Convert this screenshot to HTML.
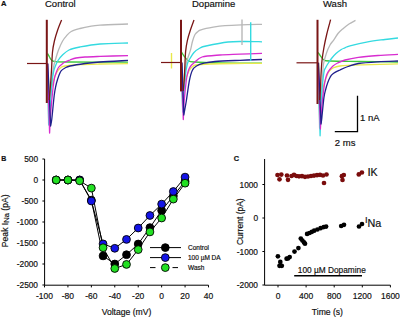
<!DOCTYPE html>
<html><head><meta charset="utf-8"><style>
html,body{margin:0;padding:0;background:#fff;width:400px;height:317px;overflow:hidden}
svg{display:block}
text{font-family:"Liberation Sans", sans-serif;fill:#111;stroke:#111;stroke-width:0.18px}
</style></head><body>
<svg width="400" height="317" viewBox="0 0 400 317">
<path d="M47.60,53.50 C47.92,54.08 48.85,55.92 49.50,57.00 C50.15,58.08 50.58,59.25 51.50,60.00 C52.42,60.75 51.92,61.17 55.00,61.50 C58.08,61.83 57.83,61.88 70.00,62.00 C82.17,62.12 118.33,62.17 128.00,62.20" fill="none" stroke="#3cc83c" stroke-width="1.3" stroke-linejoin="round"/>
<path d="M47.5,63.5 L49.5,95 L49.50,95.00 C49.92,93.50 51.08,89.17 52.00,86.00 C52.92,82.83 54.00,78.58 55.00,76.00 C56.00,73.42 57.00,71.92 58.00,70.50 C59.00,69.08 59.83,68.25 61.00,67.50 C62.17,66.75 61.83,66.48 65.00,66.00 C68.17,65.52 74.17,64.93 80.00,64.60 C85.83,64.27 92.00,64.17 100.00,64.00 C108.00,63.83 123.33,63.67 128.00,63.60" fill="none" stroke="#e8e84a" stroke-width="1.3" stroke-linejoin="round"/>
<path d="M47.3,63.5 L48.6,124 L48.60,124.00 C48.77,121.67 49.17,115.67 49.60,110.00 C50.03,104.33 50.72,95.83 51.20,90.00 C51.68,84.17 52.03,79.17 52.50,75.00 C52.97,70.83 53.45,67.75 54.00,65.00 C54.55,62.25 55.05,61.00 55.80,58.50 C56.55,56.00 57.37,52.92 58.50,50.00 C59.63,47.08 61.27,43.37 62.60,41.00 C63.93,38.63 65.07,37.38 66.50,35.80 C67.93,34.22 68.95,32.72 71.20,31.50 C73.45,30.28 76.87,29.37 80.00,28.50 C83.13,27.63 86.67,26.85 90.00,26.30 C93.33,25.75 93.67,25.58 100.00,25.20 C106.33,24.82 123.33,24.20 128.00,24.00" fill="none" stroke="#b8b8b8" stroke-width="1.3" stroke-linejoin="round"/>
<path d="M47.3,63.5 L48.8,125 L48.80,125.00 C48.93,123.50 49.23,121.00 49.60,116.00 C49.97,111.00 50.63,100.40 51.00,95.00 C51.37,89.60 51.38,87.43 51.80,83.60 C52.22,79.77 52.90,74.93 53.50,72.00 C54.10,69.07 54.65,67.92 55.40,66.00 C56.15,64.08 56.90,62.25 58.00,60.50 C59.10,58.75 60.17,57.25 62.00,55.50 C63.83,53.75 66.00,51.42 69.00,50.00 C72.00,48.58 74.83,48.00 80.00,47.00 C85.17,46.00 92.00,44.67 100.00,44.00 C108.00,43.33 123.33,43.17 128.00,43.00" fill="none" stroke="#34dae0" stroke-width="1.3" stroke-linejoin="round"/>
<path d="M47.5,63.5 L49.6,133 L49.60,133.00 C49.77,129.83 50.03,121.50 50.60,114.00 C51.17,106.50 52.35,94.00 53.00,88.00 C53.65,82.00 53.92,80.70 54.50,78.00 C55.08,75.30 55.83,73.55 56.50,71.80 C57.17,70.05 57.70,68.68 58.50,67.50 C59.30,66.32 60.22,65.62 61.30,64.70 C62.38,63.78 63.55,62.78 65.00,62.00 C66.45,61.22 68.17,60.67 70.00,60.00 C71.83,59.33 73.50,58.50 76.00,58.00 C78.50,57.50 81.00,57.27 85.00,57.00 C89.00,56.73 92.83,56.63 100.00,56.40 C107.17,56.17 123.33,55.73 128.00,55.60" fill="none" stroke="#d82cd0" stroke-width="1.3" stroke-linejoin="round"/>
<path d="M47.8,63.5 L50.6,126 L50.60,126.00 C50.80,124.83 51.20,124.08 51.80,119.00 C52.40,113.92 53.53,101.00 54.20,95.50 C54.87,90.00 55.22,88.75 55.80,86.00 C56.38,83.25 57.08,81.00 57.70,79.00 C58.32,77.00 58.90,75.40 59.50,74.00 C60.10,72.60 60.38,71.60 61.30,70.60 C62.22,69.60 63.55,68.77 65.00,68.00 C66.45,67.23 66.67,66.75 70.00,66.00 C73.33,65.25 80.00,64.17 85.00,63.50 C90.00,62.83 92.83,62.52 100.00,62.00 C107.17,61.48 123.33,60.67 128.00,60.40" fill="none" stroke="#20208c" stroke-width="1.3" stroke-linejoin="round"/>
<path d="M49.30,100.00 C49.50,97.50 50.13,90.00 50.50,85.00 C50.87,80.00 51.17,75.50 51.50,70.00 C51.83,64.50 52.02,56.83 52.50,52.00 C52.98,47.17 53.57,44.58 54.40,41.00 C55.23,37.42 56.30,34.00 57.50,30.50 C58.70,27.00 60.92,21.75 61.60,20.00" fill="none" stroke="#7a1616" stroke-width="1.3" stroke-linejoin="round"/>
<path d="M27,63.5 L46.8,63.5" stroke="#7a1616" stroke-width="1.2" fill="none"/>
<rect x="45.8" y="19.8" width="2.0" height="83.2" fill="#7a1616"/>
<path d="M181.50,52.00 C181.92,52.67 182.92,54.58 184.00,56.00 C185.08,57.42 186.33,59.50 188.00,60.50 C189.67,61.50 188.67,61.58 194.00,62.00 C199.33,62.42 208.67,62.80 220.00,63.00 C231.33,63.20 255.00,63.17 262.00,63.20" fill="none" stroke="#3cc83c" stroke-width="1.3" stroke-linejoin="round"/>
<path d="M181.5,62.5 L183.5,85 L183.50,85.00 C183.92,83.83 185.08,80.33 186.00,78.00 C186.92,75.67 188.00,72.83 189.00,71.00 C190.00,69.17 190.83,68.00 192.00,67.00 C193.17,66.00 193.00,65.50 196.00,65.00 C199.00,64.50 203.50,64.25 210.00,64.00 C216.50,63.75 226.33,63.62 235.00,63.50 C243.67,63.38 257.50,63.33 262.00,63.30" fill="none" stroke="#e8e84a" stroke-width="1.3" stroke-linejoin="round"/>
<path d="M181.2,62.5 L182.6,110 L182.60,110.00 C182.73,107.50 183.03,100.83 183.40,95.00 C183.77,89.17 184.32,80.33 184.80,75.00 C185.28,69.67 185.68,66.17 186.30,63.00 C186.92,59.83 187.78,58.22 188.50,56.00 C189.22,53.78 189.92,52.20 190.60,49.70 C191.28,47.20 191.87,43.53 192.60,41.00 C193.33,38.47 194.10,36.08 195.00,34.50 C195.90,32.92 197.00,32.28 198.00,31.50 C199.00,30.72 198.47,30.52 201.00,29.80 C203.53,29.08 209.20,27.90 213.20,27.20 C217.20,26.50 220.27,26.00 225.00,25.60 C229.73,25.20 235.43,25.00 241.60,24.80 C247.77,24.60 258.60,24.47 262.00,24.40" fill="none" stroke="#b8b8b8" stroke-width="1.3" stroke-linejoin="round"/>
<path d="M181.2,62.5 L182.8,112 L182.80,112.00 C182.90,110.17 182.98,106.93 183.40,101.00 C183.82,95.07 184.65,82.57 185.30,76.40 C185.95,70.23 186.52,66.98 187.30,64.00 C188.08,61.02 188.88,60.42 190.00,58.50 C191.12,56.58 192.33,54.25 194.00,52.50 C195.67,50.75 198.00,49.08 200.00,48.00 C202.00,46.92 201.33,47.00 206.00,46.00 C210.67,45.00 221.50,42.75 228.00,42.00 C234.50,41.25 239.33,41.53 245.00,41.50 C250.67,41.47 259.17,41.75 262.00,41.80" fill="none" stroke="#34dae0" stroke-width="1.3" stroke-linejoin="round"/>
<path d="M181.5,62.5 L183.3,119.5 L183.30,119.50 C183.45,116.42 183.70,107.50 184.20,101.00 C184.70,94.50 185.67,85.33 186.30,80.50 C186.93,75.67 187.48,74.05 188.00,72.00 C188.52,69.95 188.82,69.37 189.40,68.20 C189.98,67.03 190.65,65.95 191.50,65.00 C192.35,64.05 192.75,63.83 194.50,62.50 C196.25,61.17 197.75,58.25 202.00,57.00 C206.25,55.75 213.67,55.47 220.00,55.00 C226.33,54.53 233.00,54.48 240.00,54.20 C247.00,53.92 258.33,53.45 262.00,53.30" fill="none" stroke="#d82cd0" stroke-width="1.3" stroke-linejoin="round"/>
<path d="M182,62.5 L183.8,115 L183.80,115.00 C184.22,112.67 185.37,106.75 186.30,101.00 C187.23,95.25 188.38,85.63 189.40,80.50 C190.42,75.37 191.22,72.62 192.40,70.20 C193.58,67.78 194.57,67.17 196.50,66.00 C198.43,64.83 200.92,63.95 204.00,63.20 C207.08,62.45 209.00,61.98 215.00,61.50 C221.00,61.02 232.17,60.63 240.00,60.30 C247.83,59.97 258.33,59.63 262.00,59.50" fill="none" stroke="#20208c" stroke-width="1.3" stroke-linejoin="round"/>
<path d="M183.20,91.00 C183.37,89.17 183.93,83.83 184.20,80.00 C184.47,76.17 184.57,72.73 184.80,68.00 C185.03,63.27 185.17,56.22 185.60,51.60 C186.03,46.98 186.60,43.90 187.40,40.30 C188.20,36.70 189.30,33.38 190.40,30.00 C191.50,26.62 193.40,21.67 194.00,20.00" fill="none" stroke="#7a1616" stroke-width="1.3" stroke-linejoin="round"/>
<path d="M242,19.5 L242,45" fill="none" stroke="#b8b8b8" stroke-width="1.4"/>
<path d="M250.7,22.3 L250.7,61" fill="none" stroke="#34dae0" stroke-width="1.4"/>
<path d="M171.5,53 L171.5,68.5" fill="none" stroke="#e8e84a" stroke-width="1.4"/>
<path d="M161,62.5 L181.0,62.5" stroke="#7a1616" stroke-width="1.2" fill="none"/>
<rect x="180.0" y="19.8" width="2.0" height="71.60000000000001" fill="#7a1616"/>
<path d="M318.00,52.50 C318.42,53.08 319.50,54.75 320.50,56.00 C321.50,57.25 322.42,59.17 324.00,60.00 C325.58,60.83 324.00,60.75 330.00,61.00 C336.00,61.25 348.67,61.33 360.00,61.50 C371.33,61.67 391.67,61.92 398.00,62.00" fill="none" stroke="#3cc83c" stroke-width="1.3" stroke-linejoin="round"/>
<path d="M318.5,62.8 L320.5,98 L320.50,98.00 C320.92,96.33 322.08,91.33 323.00,88.00 C323.92,84.67 325.00,80.75 326.00,78.00 C327.00,75.25 327.83,73.17 329.00,71.50 C330.17,69.83 331.17,68.92 333.00,68.00 C334.83,67.08 335.50,66.53 340.00,66.00 C344.50,65.47 350.33,65.15 360.00,64.80 C369.67,64.45 391.67,64.05 398.00,63.90" fill="none" stroke="#e8e84a" stroke-width="1.3" stroke-linejoin="round"/>
<path d="M318,62.8 L319.6,128 L319.60,128.00 C319.80,125.00 320.40,116.33 320.80,110.00 C321.20,103.67 321.68,95.83 322.00,90.00 C322.32,84.17 322.45,79.33 322.70,75.00 C322.95,70.67 322.87,67.67 323.50,64.00 C324.13,60.33 325.42,56.17 326.50,53.00 C327.58,49.83 328.75,47.22 330.00,45.00 C331.25,42.78 332.67,41.62 334.00,39.70 C335.33,37.78 336.50,35.33 338.00,33.50 C339.50,31.67 341.17,30.28 343.00,28.70 C344.83,27.12 346.92,25.38 349.00,24.00 C351.08,22.62 354.42,21.00 355.50,20.40" fill="none" stroke="#b8b8b8" stroke-width="1.3" stroke-linejoin="round"/>
<path d="M318,62.8 L320.1,135.8 L320.10,135.80 C320.22,132.33 320.55,121.80 320.80,115.00 C321.05,108.20 321.08,102.07 321.60,95.00 C322.12,87.93 323.25,77.10 323.90,72.60 C324.55,68.10 324.87,69.43 325.50,68.00 C326.13,66.57 326.70,65.58 327.70,64.00 C328.70,62.42 330.12,60.25 331.50,58.50 C332.88,56.75 334.37,55.00 336.00,53.50 C337.63,52.00 339.80,50.45 341.30,49.50 C342.80,48.55 343.55,48.42 345.00,47.80 C346.45,47.18 346.20,46.80 350.00,45.80 C353.80,44.80 361.97,42.85 367.80,41.80 C373.63,40.75 379.97,40.13 385.00,39.50 C390.03,38.87 395.83,38.25 398.00,38.00" fill="none" stroke="#34dae0" stroke-width="1.3" stroke-linejoin="round"/>
<path d="M318.2,62.8 L320.4,129 L320.40,129.00 C320.57,125.92 320.82,117.37 321.40,110.50 C321.98,103.63 323.22,93.05 323.90,87.80 C324.58,82.55 324.87,81.53 325.50,79.00 C326.13,76.47 326.50,74.72 327.70,72.60 C328.90,70.48 331.05,67.90 332.70,66.30 C334.35,64.70 335.55,64.05 337.60,63.00 C339.65,61.95 341.53,60.95 345.00,60.00 C348.47,59.05 352.90,58.05 358.40,57.30 C363.90,56.55 371.40,55.98 378.00,55.50 C384.60,55.02 394.67,54.58 398.00,54.40" fill="none" stroke="#d82cd0" stroke-width="1.3" stroke-linejoin="round"/>
<path d="M318.5,62.8 L321,124 L321.00,124.00 C321.10,123.33 321.12,124.35 321.60,120.00 C322.08,115.65 323.20,103.07 323.90,97.90 C324.60,92.73 325.17,91.53 325.80,89.00 C326.43,86.47 327.00,84.62 327.70,82.70 C328.40,80.78 329.17,78.97 330.00,77.50 C330.83,76.03 331.03,75.15 332.70,73.90 C334.37,72.65 337.45,71.23 340.00,70.00 C342.55,68.77 344.93,67.58 348.00,66.50 C351.07,65.42 353.40,64.28 358.40,63.50 C363.40,62.72 371.40,62.22 378.00,61.80 C384.60,61.38 394.67,61.13 398.00,61.00" fill="none" stroke="#20208c" stroke-width="1.3" stroke-linejoin="round"/>
<path d="M319.60,100.00 C319.75,98.00 320.27,92.17 320.50,88.00 C320.73,83.83 320.75,79.58 321.00,75.00 C321.25,70.42 321.50,65.13 322.00,60.50 C322.50,55.87 323.20,51.62 324.00,47.20 C324.80,42.78 325.70,38.58 326.80,34.00 C327.90,29.42 329.97,22.08 330.60,19.70" fill="none" stroke="#7a1616" stroke-width="1.3" stroke-linejoin="round"/>
<path d="M296.5,62.8 L317.5,62.8" stroke="#7a1616" stroke-width="1.2" fill="none"/>
<rect x="316.5" y="19.8" width="2.0" height="84.2" fill="#7a1616"/>
<text x="1.0" y="5.5" font-size="7.6" text-anchor="start" font-weight="bold" >A</text>
<text x="45" y="7.1" font-size="9.5" text-anchor="start" font-weight="normal" >Control</text>
<text x="192" y="7.1" font-size="9.5" text-anchor="start" font-weight="normal" >Dopamine</text>
<text x="323" y="7.1" font-size="9.5" text-anchor="start" font-weight="normal" >Wash</text>
<path d="M334.8,131.6 H357.5 V95.7" fill="none" stroke="#000" stroke-width="1.3"/>
<text x="360" y="121.3" font-size="9.5" text-anchor="start" font-weight="normal" >1 nA</text>
<text x="334.8" y="146.0" font-size="9.5" text-anchor="start" font-weight="normal" >2 ms</text>
<text x="1.2" y="161.4" font-size="7.0" text-anchor="start" font-weight="bold" >B</text>
<path d="M44.6,159 V285.2 H208.496" fill="none" stroke="#000" stroke-width="1"/>
<path d="M42.4,159.00 H44.6" stroke="#000" stroke-width="1"/>
<text x="38" y="162.0" font-size="8.3" text-anchor="end" font-weight="normal" >500</text>
<path d="M42.4,180.00 H44.6" stroke="#000" stroke-width="1"/>
<text x="38" y="183.0" font-size="8.3" text-anchor="end" font-weight="normal" >0</text>
<path d="M42.4,201.00 H44.6" stroke="#000" stroke-width="1"/>
<text x="38" y="204.0" font-size="8.3" text-anchor="end" font-weight="normal" >-500</text>
<path d="M42.4,222.00 H44.6" stroke="#000" stroke-width="1"/>
<text x="38" y="225.0" font-size="8.3" text-anchor="end" font-weight="normal" >-1000</text>
<path d="M42.4,243.00 H44.6" stroke="#000" stroke-width="1"/>
<text x="38" y="246.0" font-size="8.3" text-anchor="end" font-weight="normal" >-1500</text>
<path d="M42.4,264.00 H44.6" stroke="#000" stroke-width="1"/>
<text x="38" y="267.0" font-size="8.3" text-anchor="end" font-weight="normal" >-2000</text>
<path d="M42.4,285.00 H44.6" stroke="#000" stroke-width="1"/>
<text x="38" y="288.0" font-size="8.3" text-anchor="end" font-weight="normal" >-2500</text>
<path d="M44.50,285.2 V287.4" stroke="#000" stroke-width="1"/>
<text x="44.5" y="299.0" font-size="8.5" text-anchor="middle" font-weight="normal" >-100</text>
<path d="M67.93,285.2 V287.4" stroke="#000" stroke-width="1"/>
<text x="67.928" y="299.0" font-size="8.5" text-anchor="middle" font-weight="normal" >-80</text>
<path d="M91.36,285.2 V287.4" stroke="#000" stroke-width="1"/>
<text x="91.356" y="299.0" font-size="8.5" text-anchor="middle" font-weight="normal" >-60</text>
<path d="M114.78,285.2 V287.4" stroke="#000" stroke-width="1"/>
<text x="114.784" y="299.0" font-size="8.5" text-anchor="middle" font-weight="normal" >-40</text>
<path d="M138.21,285.2 V287.4" stroke="#000" stroke-width="1"/>
<text x="138.212" y="299.0" font-size="8.5" text-anchor="middle" font-weight="normal" >-20</text>
<path d="M161.64,285.2 V287.4" stroke="#000" stroke-width="1"/>
<text x="161.64" y="299.0" font-size="8.5" text-anchor="middle" font-weight="normal" >0</text>
<path d="M185.07,285.2 V287.4" stroke="#000" stroke-width="1"/>
<text x="185.068" y="299.0" font-size="8.5" text-anchor="middle" font-weight="normal" >20</text>
<path d="M208.50,285.2 V287.4" stroke="#000" stroke-width="1"/>
<text x="208.496" y="299.0" font-size="8.5" text-anchor="middle" font-weight="normal" >40</text>
<text x="126.5" y="314.6" font-size="8.6" text-anchor="middle" font-weight="normal" >Voltage (mV)</text>
<text transform="translate(7.8,220.8) rotate(-90)" font-size="8.6" text-anchor="middle">Peak I<tspan font-size="7.6" dy="1.5">Na</tspan><tspan dy="-1.5"> (pA)</tspan></text>
<polyline points="56.21,180.00 67.93,180.00 79.64,180.00 91.36,200.16 103.07,255.89 114.78,264.00 126.50,254.72 138.21,244.01 149.93,227.59 161.64,210.49 173.35,195.96 185.07,181.26" fill="none" stroke="#000" stroke-width="1"/>
<polyline points="56.21,180.00 67.93,180.00 79.64,180.00 91.36,201.00 103.07,243.88 114.78,248.29 126.50,239.39 138.21,228.01 149.93,215.49 161.64,204.11 173.35,191.51 185.07,177.10" fill="none" stroke="#000" stroke-width="1"/>
<polyline points="56.21,180.00 67.93,180.00 79.64,180.84 91.36,188.11 103.07,247.70 114.78,268.49 126.50,264.42 138.21,249.59 149.93,231.91 161.64,218.01 173.35,199.11 185.07,183.19" fill="none" stroke="#000" stroke-width="1"/>
<circle cx="56.21" cy="180.00" r="3.9" fill="#000000" stroke="#000" stroke-width="0.9"/>
<circle cx="67.93" cy="180.00" r="3.9" fill="#000000" stroke="#000" stroke-width="0.9"/>
<circle cx="79.64" cy="180.00" r="3.9" fill="#000000" stroke="#000" stroke-width="0.9"/>
<circle cx="91.36" cy="200.16" r="3.9" fill="#000000" stroke="#000" stroke-width="0.9"/>
<circle cx="103.07" cy="255.89" r="3.9" fill="#000000" stroke="#000" stroke-width="0.9"/>
<circle cx="114.78" cy="264.00" r="3.9" fill="#000000" stroke="#000" stroke-width="0.9"/>
<circle cx="126.50" cy="254.72" r="3.9" fill="#000000" stroke="#000" stroke-width="0.9"/>
<circle cx="138.21" cy="244.01" r="3.9" fill="#000000" stroke="#000" stroke-width="0.9"/>
<circle cx="149.93" cy="227.59" r="3.9" fill="#000000" stroke="#000" stroke-width="0.9"/>
<circle cx="161.64" cy="210.49" r="3.9" fill="#000000" stroke="#000" stroke-width="0.9"/>
<circle cx="173.35" cy="195.96" r="3.9" fill="#000000" stroke="#000" stroke-width="0.9"/>
<circle cx="185.07" cy="181.26" r="3.9" fill="#000000" stroke="#000" stroke-width="0.9"/>
<circle cx="56.21" cy="180.00" r="3.9" fill="#1414e6" stroke="#000" stroke-width="0.9"/>
<circle cx="67.93" cy="180.00" r="3.9" fill="#1414e6" stroke="#000" stroke-width="0.9"/>
<circle cx="79.64" cy="180.00" r="3.9" fill="#1414e6" stroke="#000" stroke-width="0.9"/>
<circle cx="91.36" cy="201.00" r="3.9" fill="#1414e6" stroke="#000" stroke-width="0.9"/>
<circle cx="103.07" cy="243.88" r="3.9" fill="#1414e6" stroke="#000" stroke-width="0.9"/>
<circle cx="114.78" cy="248.29" r="3.9" fill="#1414e6" stroke="#000" stroke-width="0.9"/>
<circle cx="126.50" cy="239.39" r="3.9" fill="#1414e6" stroke="#000" stroke-width="0.9"/>
<circle cx="138.21" cy="228.01" r="3.9" fill="#1414e6" stroke="#000" stroke-width="0.9"/>
<circle cx="149.93" cy="215.49" r="3.9" fill="#1414e6" stroke="#000" stroke-width="0.9"/>
<circle cx="161.64" cy="204.11" r="3.9" fill="#1414e6" stroke="#000" stroke-width="0.9"/>
<circle cx="173.35" cy="191.51" r="3.9" fill="#1414e6" stroke="#000" stroke-width="0.9"/>
<circle cx="185.07" cy="177.10" r="3.9" fill="#1414e6" stroke="#000" stroke-width="0.9"/>
<circle cx="56.21" cy="180.00" r="3.9" fill="#22e022" stroke="#000" stroke-width="0.9"/>
<circle cx="67.93" cy="180.00" r="3.9" fill="#22e022" stroke="#000" stroke-width="0.9"/>
<circle cx="79.64" cy="180.84" r="3.9" fill="#22e022" stroke="#000" stroke-width="0.9"/>
<circle cx="91.36" cy="188.11" r="3.9" fill="#22e022" stroke="#000" stroke-width="0.9"/>
<circle cx="103.07" cy="247.70" r="3.9" fill="#22e022" stroke="#000" stroke-width="0.9"/>
<circle cx="114.78" cy="268.49" r="3.9" fill="#22e022" stroke="#000" stroke-width="0.9"/>
<circle cx="126.50" cy="264.42" r="3.9" fill="#22e022" stroke="#000" stroke-width="0.9"/>
<circle cx="138.21" cy="249.59" r="3.9" fill="#22e022" stroke="#000" stroke-width="0.9"/>
<circle cx="149.93" cy="231.91" r="3.9" fill="#22e022" stroke="#000" stroke-width="0.9"/>
<circle cx="161.64" cy="218.01" r="3.9" fill="#22e022" stroke="#000" stroke-width="0.9"/>
<circle cx="173.35" cy="199.11" r="3.9" fill="#22e022" stroke="#000" stroke-width="0.9"/>
<circle cx="185.07" cy="183.19" r="3.9" fill="#22e022" stroke="#000" stroke-width="0.9"/>
<path d="M150,247.6 H181" stroke="#000" stroke-width="1"/>
<circle cx="165.3" cy="247.6" r="3.9" fill="#000000" stroke="#000" stroke-width="0.9"/>
<text x="188" y="249.6" font-size="6.5" text-anchor="start" font-weight="normal" >Control</text>
<path d="M150,257.6 H181" stroke="#000" stroke-width="1"/>
<circle cx="165.3" cy="257.6" r="3.9" fill="#1414e6" stroke="#000" stroke-width="0.9"/>
<text x="188" y="259.6" font-size="6.5" text-anchor="start" font-weight="normal" >100 µM DA</text>
<path d="M150,267.6 H155.5 M172.5,267.6 H178" stroke="#000" stroke-width="1"/>
<circle cx="165.3" cy="267.6" r="3.9" fill="#22e022" stroke="#000" stroke-width="0.9"/>
<text x="188" y="269.6" font-size="6.5" text-anchor="start" font-weight="normal" >Wash</text>
<text x="233.8" y="161.2" font-size="7.4" text-anchor="start" font-weight="bold" >C</text>
<path d="M264.6,159 V285.2 H390.40" fill="none" stroke="#000" stroke-width="1"/>
<path d="M262.40000000000003,184.50 H264.6" stroke="#000" stroke-width="1"/>
<text x="258" y="187.5" font-size="8.3" text-anchor="end" font-weight="normal" >1000</text>
<path d="M262.40000000000003,218.00 H264.6" stroke="#000" stroke-width="1"/>
<text x="258" y="221.0" font-size="8.3" text-anchor="end" font-weight="normal" >0</text>
<path d="M262.40000000000003,251.50 H264.6" stroke="#000" stroke-width="1"/>
<text x="258" y="254.5" font-size="8.3" text-anchor="end" font-weight="normal" >-1000</text>
<path d="M262.40000000000003,285.00 H264.6" stroke="#000" stroke-width="1"/>
<text x="258" y="288.0" font-size="8.3" text-anchor="end" font-weight="normal" >-2000</text>
<path d="M278.00,285.2 V287.4" stroke="#000" stroke-width="1"/>
<text x="278.0" y="299.0" font-size="8.5" text-anchor="middle" font-weight="normal" >0</text>
<path d="M306.10,285.2 V287.4" stroke="#000" stroke-width="1"/>
<text x="306.1" y="299.0" font-size="8.5" text-anchor="middle" font-weight="normal" >400</text>
<path d="M334.20,285.2 V287.4" stroke="#000" stroke-width="1"/>
<text x="334.2" y="299.0" font-size="8.5" text-anchor="middle" font-weight="normal" >800</text>
<path d="M362.30,285.2 V287.4" stroke="#000" stroke-width="1"/>
<text x="362.3" y="299.0" font-size="8.5" text-anchor="middle" font-weight="normal" >1200</text>
<path d="M390.40,285.2 V287.4" stroke="#000" stroke-width="1"/>
<text x="390.4" y="299.0" font-size="8.5" text-anchor="middle" font-weight="normal" >1600</text>
<text x="327.4" y="315.3" font-size="8.6" text-anchor="middle" font-weight="normal" >Time (s)</text>
<text transform="translate(242.5,221.7) rotate(-90)" font-size="8.5" text-anchor="middle">Current (pA)</text>
<circle cx="277.5" cy="175" r="2.35" fill="#7a0c0c"/>
<circle cx="281.3" cy="174.6" r="2.35" fill="#7a0c0c"/>
<circle cx="279.5" cy="179.3" r="2.35" fill="#7a0c0c"/>
<circle cx="287" cy="175.5" r="2.35" fill="#7a0c0c"/>
<circle cx="288" cy="179.8" r="2.35" fill="#7a0c0c"/>
<circle cx="291.5" cy="176" r="2.35" fill="#7a0c0c"/>
<circle cx="294" cy="174.8" r="2.35" fill="#7a0c0c"/>
<circle cx="296.5" cy="176" r="2.35" fill="#7a0c0c"/>
<circle cx="299" cy="176.3" r="2.35" fill="#7a0c0c"/>
<circle cx="302" cy="176.2" r="2.35" fill="#7a0c0c"/>
<circle cx="305" cy="176.8" r="2.35" fill="#7a0c0c"/>
<circle cx="308" cy="176.5" r="2.35" fill="#7a0c0c"/>
<circle cx="311" cy="176" r="2.35" fill="#7a0c0c"/>
<circle cx="314" cy="175.6" r="2.35" fill="#7a0c0c"/>
<circle cx="317" cy="175.2" r="2.35" fill="#7a0c0c"/>
<circle cx="320" cy="174.8" r="2.35" fill="#7a0c0c"/>
<circle cx="323" cy="175.5" r="2.35" fill="#7a0c0c"/>
<circle cx="326.5" cy="174.5" r="2.35" fill="#7a0c0c"/>
<circle cx="324" cy="183" r="2.35" fill="#7a0c0c"/>
<circle cx="341.9" cy="176.2" r="2.35" fill="#7a0c0c"/>
<circle cx="343.8" cy="175" r="2.35" fill="#7a0c0c"/>
<circle cx="342.5" cy="180" r="2.35" fill="#7a0c0c"/>
<circle cx="358.8" cy="174.4" r="2.35" fill="#7a0c0c"/>
<circle cx="361.9" cy="172.5" r="2.35" fill="#7a0c0c"/>
<circle cx="277.9" cy="256.3" r="2.35" fill="#000"/>
<circle cx="280.3" cy="261.9" r="2.35" fill="#000"/>
<circle cx="279.5" cy="265.8" r="2.35" fill="#000"/>
<circle cx="281.8" cy="265.8" r="2.35" fill="#000"/>
<circle cx="286.6" cy="258.7" r="2.35" fill="#000"/>
<circle cx="289.7" cy="257.1" r="2.35" fill="#000"/>
<circle cx="288" cy="258.5" r="2.35" fill="#000"/>
<circle cx="294.5" cy="251.6" r="2.35" fill="#000"/>
<circle cx="298.4" cy="248.1" r="2.35" fill="#000"/>
<circle cx="300.8" cy="238.6" r="2.35" fill="#000"/>
<circle cx="302.4" cy="240.5" r="2.35" fill="#000"/>
<circle cx="304" cy="242.4" r="2.35" fill="#000"/>
<circle cx="305" cy="243.7" r="2.35" fill="#000"/>
<circle cx="307.1" cy="233.9" r="2.35" fill="#000"/>
<circle cx="309.5" cy="233" r="2.35" fill="#000"/>
<circle cx="311.9" cy="231.8" r="2.35" fill="#000"/>
<circle cx="314.2" cy="230.7" r="2.35" fill="#000"/>
<circle cx="317.4" cy="229.5" r="2.35" fill="#000"/>
<circle cx="320.6" cy="228.2" r="2.35" fill="#000"/>
<circle cx="323.7" cy="227.1" r="2.35" fill="#000"/>
<circle cx="326.1" cy="226.6" r="2.35" fill="#000"/>
<circle cx="341.2" cy="226" r="2.35" fill="#000"/>
<circle cx="344" cy="224.8" r="2.35" fill="#000"/>
<circle cx="359" cy="226.5" r="2.35" fill="#000"/>
<circle cx="362" cy="224" r="2.35" fill="#000"/>
<text x="367.6" y="175.6" font-size="11.5">I<tspan font-size="10.6" dx="-0.3">K</tspan></text>
<text x="364.9" y="223.4" font-size="9.3">I<tspan font-size="10.8" dy="3.6">Na</tspan></text>
<text x="297.8" y="273.0" font-size="8.3" text-anchor="start" font-weight="normal" >100 µM Dopamine</text>
<path d="M294.2,275.7 H362" stroke="#000" stroke-width="1.4"/>
</svg></body></html>
